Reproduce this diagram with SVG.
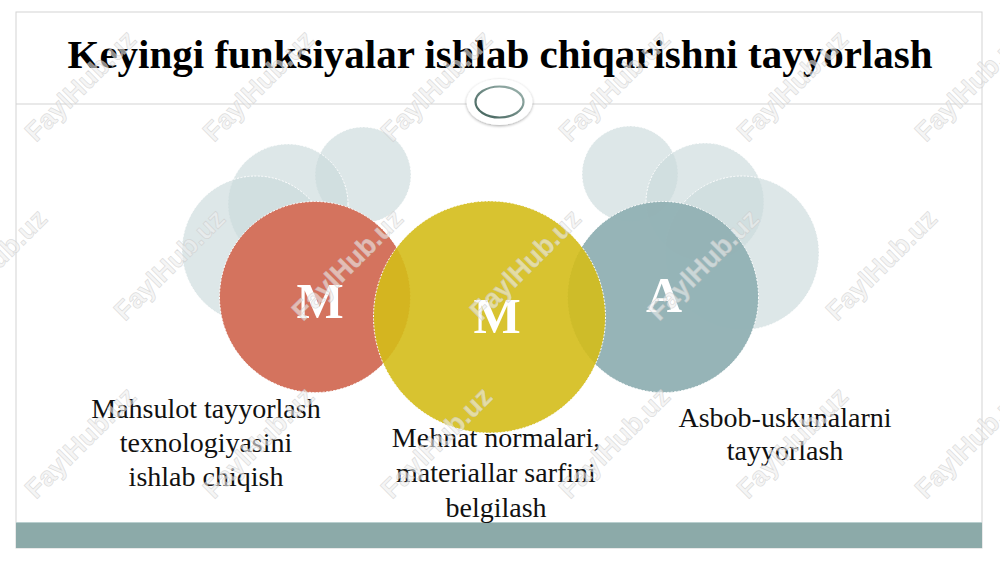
<svg xmlns="http://www.w3.org/2000/svg" width="1000" height="561" viewBox="0 0 1000 561">
  <defs>
    <style>
      .title { font-family: "Liberation Serif", "Times New Roman", serif; font-weight: bold; font-size: 41px; fill: #000; text-anchor: middle; }
      .label { font-family: "Liberation Serif", "Times New Roman", serif; font-size: 28px; fill: #111; text-anchor: middle; }
      .letter { font-family: "Liberation Serif", "Times New Roman", serif; font-weight: bold; font-size: 50px; fill: #fff; text-anchor: middle; }
      .bg { fill: #cbdadc; fill-opacity: 0.65; stroke: #ffffff; stroke-width: 1; stroke-dasharray: 2 1.5; }
      .main { stroke: #ffffff; stroke-width: 1; stroke-dasharray: 2 1.5; }
      .wm { font-family: "Liberation Sans", Arial, sans-serif; font-weight: bold; font-size: 27px; fill: #efefef; fill-opacity: 0.6; stroke: #c4c4c4; stroke-opacity: 0.55; stroke-width: 0.7; }
      .frame { fill: none; stroke: #d3d3d3; stroke-width: 1; }
    </style>
    <filter id="shadow" x="-20%" y="-20%" width="140%" height="140%">
      <feGaussianBlur in="SourceAlpha" stdDeviation="1.5"/>
      <feOffset dx="0" dy="1" result="b"/>
      <feComponentTransfer><feFuncA type="linear" slope="0.35"/></feComponentTransfer>
      <feMerge><feMergeNode/><feMergeNode in="SourceGraphic"/></feMerge>
    </filter>
    <linearGradient id="ring" x1="0" y1="1" x2="1" y2="0">
      <stop offset="0" stop-color="#3f5f58"/>
      <stop offset="1" stop-color="#9fb6b1"/>
    </linearGradient>
  </defs>

  <rect x="0" y="0" width="1000" height="561" fill="#ffffff"/>

  <g id="frame">
    <rect class="frame" x="16" y="12" width="966" height="536"/>
    <line x1="16" y1="104" x2="982" y2="104" stroke="#d3d3d3" stroke-width="1"/>
    <rect x="16" y="522" width="966" height="26" fill="#8caaa9"/>
    <line x1="16" y1="522.5" x2="982" y2="522.5" stroke="#b9cfcf" stroke-width="1"/>
  </g>

  <g id="title">
    <text class="title" x="500" y="68">Keyingi funksiyalar ishlab chiqarishni tayyorlash</text>
  </g>

  <g id="ornament">
    <ellipse cx="499.5" cy="102" rx="33" ry="23" fill="#ffffff" filter="url(#shadow)"/>
    <ellipse cx="499.5" cy="102" rx="24" ry="15.5" fill="#ffffff" stroke="url(#ring)" stroke-width="2.2"/>
  </g>

  <g id="background-circles-left">
    <circle class="bg" cx="363" cy="175" r="48"/>
    <circle class="bg" cx="288" cy="204" r="60"/>
    <circle class="bg" cx="256" cy="250" r="74"/>
  </g>
  <g id="background-circles-right">
    <circle class="bg" cx="630" cy="174" r="48"/>
    <circle class="bg" cx="705" cy="202" r="59"/>
    <circle class="bg" cx="742" cy="253" r="77"/>
  </g>

  <g id="node-m1">
    <circle class="main" cx="315" cy="297" r="95.5" fill="#d4735e"/>
    <text class="letter" x="320" y="318">M</text>
  </g>

  <g id="node-a">
    <circle class="main" cx="663" cy="297" r="95.5" fill="#93b2b5" fill-opacity="0.97"/>
    <text class="letter" x="664" y="312">A</text>
  </g>

  <g id="node-m2">
    <circle class="main" cx="489.5" cy="317" r="116" fill="#d4bd1a" fill-opacity="0.9"/>
    <text class="letter" x="497" y="333">M</text>
  </g>

  <g id="connectors"></g>

  <g id="label-m1">
    <text class="label" x="206" y="418">Mahsulot tayyorlash</text>
    <text class="label" x="206" y="452">texnologiyasini</text>
    <text class="label" x="206" y="486">ishlab chiqish</text>
  </g>
  <g id="label-m2">
    <text class="label" x="496" y="447">Mehnat normalari,</text>
    <text class="label" x="496" y="482">materiallar sarfini</text>
    <text class="label" x="496" y="517">belgilash</text>
  </g>
  <g id="label-a">
    <text class="label" x="785" y="427">Asbob-uskunalarni</text>
    <text class="label" x="785" y="460">tayyorlash</text>
  </g>

  <g id="watermarks">
    <text class="wm" transform="translate(36,143) rotate(-45)">FaylHub.uz</text>
    <text class="wm" transform="translate(214,143) rotate(-45)">FaylHub.uz</text>
    <text class="wm" transform="translate(392,143) rotate(-45)">FaylHub.uz</text>
    <text class="wm" transform="translate(570,143) rotate(-45)">FaylHub.uz</text>
    <text class="wm" transform="translate(748,143) rotate(-45)">FaylHub.uz</text>
    <text class="wm" transform="translate(926,143) rotate(-45)">FaylHub.uz</text>
    <text class="wm" transform="translate(-53,322) rotate(-45)">FaylHub.uz</text>
    <text class="wm" transform="translate(125,322) rotate(-45)">FaylHub.uz</text>
    <text class="wm" transform="translate(303,322) rotate(-45)">FaylHub.uz</text>
    <text class="wm" transform="translate(481,322) rotate(-45)">FaylHub.uz</text>
    <text class="wm" transform="translate(659,322) rotate(-45)">FaylHub.uz</text>
    <text class="wm" transform="translate(837,322) rotate(-45)">FaylHub.uz</text>
    <text class="wm" transform="translate(36,500) rotate(-45)">FaylHub.uz</text>
    <text class="wm" transform="translate(214,500) rotate(-45)">FaylHub.uz</text>
    <text class="wm" transform="translate(392,500) rotate(-45)">FaylHub.uz</text>
    <text class="wm" transform="translate(570,500) rotate(-45)">FaylHub.uz</text>
    <text class="wm" transform="translate(748,500) rotate(-45)">FaylHub.uz</text>
    <text class="wm" transform="translate(926,500) rotate(-45)">FaylHub.uz</text>
  </g>
</svg>
